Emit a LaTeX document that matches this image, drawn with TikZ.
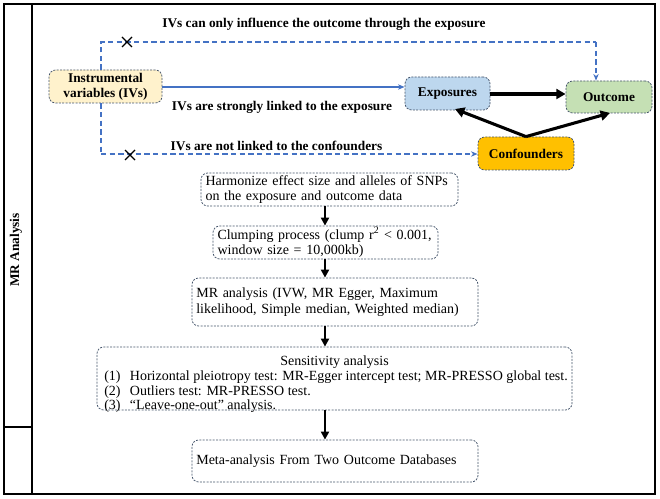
\documentclass[tikz,border=0pt]{standalone}
\usepackage{fontspec}
\setmainfont{Liberation Serif}
\usetikzlibrary{arrows.meta}
\definecolor{ivfill}{HTML}{FFF2CC}
\definecolor{exfill}{HTML}{BDD7EE}
\definecolor{outfill}{HTML}{C5E0B4}
\definecolor{confill}{HTML}{FFC000}
\definecolor{bord}{HTML}{44546A}
\definecolor{lblue}{HTML}{4472C4}
\begin{document}
\begin{tikzpicture}[x=0.75pt,y=-0.75pt,
  box/.style={draw=bord, dash pattern=on 1.5pt off 1pt, rounded corners=5pt, line width=0.6pt, inner sep=0pt, align=center},
  topbox/.style={box, font=\fontsize{10}{11.5}\selectfont\bfseries},
  flowbox/.style={box, font=\fontsize{10.5}{11.5}\selectfont},
  lbl/.style={font=\fontsize{10}{12}\selectfont\bfseries, inner sep=0pt},
  blueline/.style={draw=lblue, line width=0.8pt, dash pattern=on 4pt off 2.5pt},
  bluearrow/.style={blueline, -{Stealth[length=5pt,width=4pt]}},
  thick arrow/.style={line width=2.3pt, -{Triangle[length=7pt,width=7.5pt]}},
  down arrow/.style={line width=1.6pt, -{Triangle[length=6pt,width=6pt]}},
  xmark/.style={line width=0.9pt}
]
\useasboundingbox (0,0) rectangle (660,499);
% frame
\draw[line width=1.5pt] (4,4) rectangle (655,494);
\draw[line width=1.5pt] (32,4) -- (32,494);
\draw[line width=1pt] (4,427) -- (32,427);
\node[rotate=90, font=\fontsize{10}{12}\selectfont\bfseries] (mrlab) at (16,250) {MR Analysis};

% top section
\node[lbl] (t1) at (324,24) {IVs can only influence the outcome through the exposure};
\node[topbox, fill=ivfill, minimum width=84.75pt, minimum height=24.75pt] (iv) at (105.5,86.5) {Instrumental\\variables (IVs)};
\node[topbox, fill=exfill, minimum width=63.75pt, minimum height=24.75pt] (expo) at (447.5,93.5) {Exposures};
\node[topbox, fill=outfill, minimum width=64.5pt, minimum height=24pt] (out) at (609,97) {Outcome};
\node[topbox, fill=confill, minimum width=72pt, minimum height=24.75pt] (conf) at (526,153.5) {Confounders};
\node[lbl] (t2) at (282,107) {IVs are strongly linked to the exposure};
\node[lbl] (t3) at (276.5,146) {IVs are not linked to the confounders};

\coordinate (ctop) at (101,42);
\coordinate (cbot) at (101,154);
\coordinate (cright) at (596,42);
\draw[blueline] (iv.north -| ctop) -- (ctop) -- (cright);
\draw[bluearrow] (cright) -- (cright |- out.north);
\draw[blueline] (iv.south -| cbot) -- (cbot);
\draw[bluearrow] (cbot) -- (cbot -| conf.west);
\draw[draw=lblue, line width=0.8pt, -{Stealth[length=5pt,width=4pt]}] (iv.east |- 0,87) -- (expo.west |- 0,87);

\coordinate (x1) at (127,42);
\coordinate (x2) at (130,155);
\draw[xmark] ([shift={(-5,-5)}]x1) -- ([shift={(5,5)}]x1) ([shift={(-5,5)}]x1) -- ([shift={(5,-5)}]x1);
\draw[xmark] ([shift={(-5,-5)}]x2) -- ([shift={(5,5)}]x2) ([shift={(-5,5)}]x2) -- ([shift={(5,-5)}]x2);

\coordinate (tipa) at (455,109);
\coordinate (tipb) at (610,113);
\draw[thick arrow] (expo.east |- 0,94) -- (out.west |- 0,94);
\draw[thick arrow] (conf.north) -- (tipa);
\draw[thick arrow] (conf.north) -- (tipb);

% flow
\node[flowbox, minimum width=192.75pt, minimum height=24.75pt, text width=186pt, align=left] (harm) at (329.5,189.5) {Harmonize effect size and alleles of SNPs\\on the exposure and outcome data};
\node[flowbox, minimum width=168.75pt, minimum height=24.75pt, text width=162pt, align=left] (clump) at (325.5,242.5) {Clumping process (clump r\textsuperscript{2} < 0.001,\\window size = 10,000kb)};
\node[flowbox, minimum width=214.5pt, minimum height=36pt, text width=208pt, align=left] (mr) at (335,302) {MR analysis (IVW, MR Egger, Maximum\\likelihood, Simple median, Weighted median)};
\node[flowbox, minimum width=356.25pt, minimum height=47.25pt] (sens) at (334.5,378.5) {};
\node[font=\fontsize{10.5}{11}\selectfont, inner sep=0pt] (senst) at (334.5,362) {Sensitivity analysis};
\node[font=\fontsize{10.5}{11}\selectfont, align=left, inner sep=0pt, anchor=north west] (sensl) at (104,370) {%
\begin{tabular}{@{}l@{\hspace{7pt}}l@{}}
(1) & Horizontal pleiotropy test: MR-Egger intercept test; MR-PRESSO global test.\\
(2) & Outliers test: MR-PRESSO test.\\
(3) & ``Leave-one-out'' analysis.
\end{tabular}};
\node[flowbox, minimum width=214.5pt, minimum height=31.5pt, text width=208pt, align=left] (meta) at (335,461) {Meta-analysis From Two Outcome Databases};

\coordinate (ax) at (325,0);
\draw[down arrow] (harm.south -| ax) -- (clump.north -| ax);
\draw[down arrow] (clump.south -| ax) -- (mr.north -| ax);
\draw[down arrow] (mr.south -| ax) -- (sens.north -| ax);
\draw[down arrow] (sens.south -| ax) -- (meta.north -| ax);
\end{tikzpicture}
\end{document}
